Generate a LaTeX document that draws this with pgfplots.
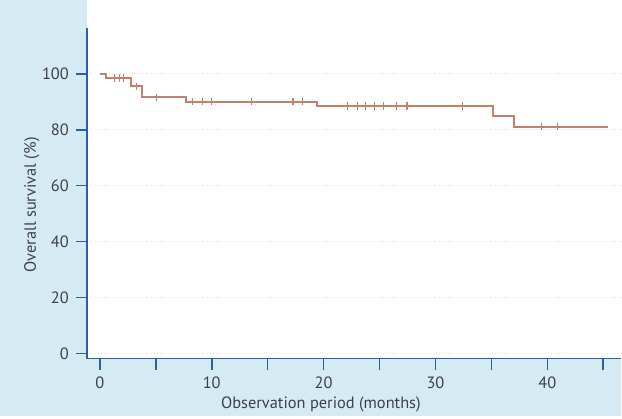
\documentclass[border=0pt]{standalone}
\usepackage{pgfplots}
\pgfplotsset{compat=1.18}
\usepackage{fontspec}
\setmainfont{PT Sans}

\definecolor{bgblue}{RGB}{214,234,244}
\definecolor{axisblue}{RGB}{45,95,160}
\definecolor{kmcurve}{RGB}{192,128,112}
\definecolor{txt}{RGB}{60,65,75}

% survival curve (steps) and censored cases
\pgfplotstableread{
t     s
0     100
0.58  100
0.58  98.5
2.79  98.5
2.79  95.5
3.77  95.5
3.77  91.6
7.68  91.6
7.68  90.0
19.38 90.0
19.38 88.5
35.15 88.5
35.15 84.8
37.05 84.8
37.05 81.1
45.45 81.1
}\kmdata

\pgfplotstableread{
t     s
1.34  98.5
1.72  98.5
2.14  98.5
3.30  95.5
5.06  91.6
8.28  90.0
9.15  90.0
10.0  90.0
13.57 90.0
17.26 90.0
18.10 90.0
22.1  88.5
23.0  88.5
23.73 88.5
24.55 88.5
25.36 88.5
26.5  88.5
27.46 88.5
32.4  88.5
39.5  81.1
40.9  81.1
}\censored

\begin{document}
\begin{tikzpicture}
  \fill[bgblue] (0,0) rectangle (311pt,208.5pt);
  \fill[white] (43.5pt,29pt) rectangle (311pt,208.5pt);
  \begin{axis}[
    at={(43.5pt,29pt)}, anchor=south west,
    scale only axis,
    width=267.5pt, height=165.5pt,
    xmin=-1.16, xmax=46.6,
    ymin=-1.8, ymax=116.4,
    axis x line*=bottom, axis y line*=left,
    axis line style={-, draw=axisblue, line width=0.8pt},
    xtick={0,5,...,45},
    xticklabels={0,,10,,20,,30,,40,},
    ytick={0,20,40,60,80,100},
    tick align=outside,
    major tick length=5.5pt,
    every tick/.style={axisblue, line width=0.8pt},
    ymajorgrids,
    grid style={densely dotted, color=black!12, line width=0.4pt},
    tick label style={font=\fontsize{8.2}{10}\selectfont, text=txt},
    /pgf/number format/assume math mode=true,
    xlabel={Observation period (months)},
    ylabel={Overall survival (\%)},
    label style={font=\fontsize{8.2}{10}\selectfont, text=txt},
    xlabel style={at={(axis description cs:0.438,0)}, anchor=center, yshift=-23pt},
    ylabel style={at={(axis description cs:-0.1028,0.465)}, anchor=center},
  ]
    \addplot[kmcurve, line width=1pt] table[x=t, y=s] {\kmdata};
    \addplot[only marks, kmcurve, mark=|, mark size=1.8pt, mark options={line width=0.6pt}]
      table[x=t, y=s] {\censored};
  \end{axis}
\end{tikzpicture}
\end{document}
